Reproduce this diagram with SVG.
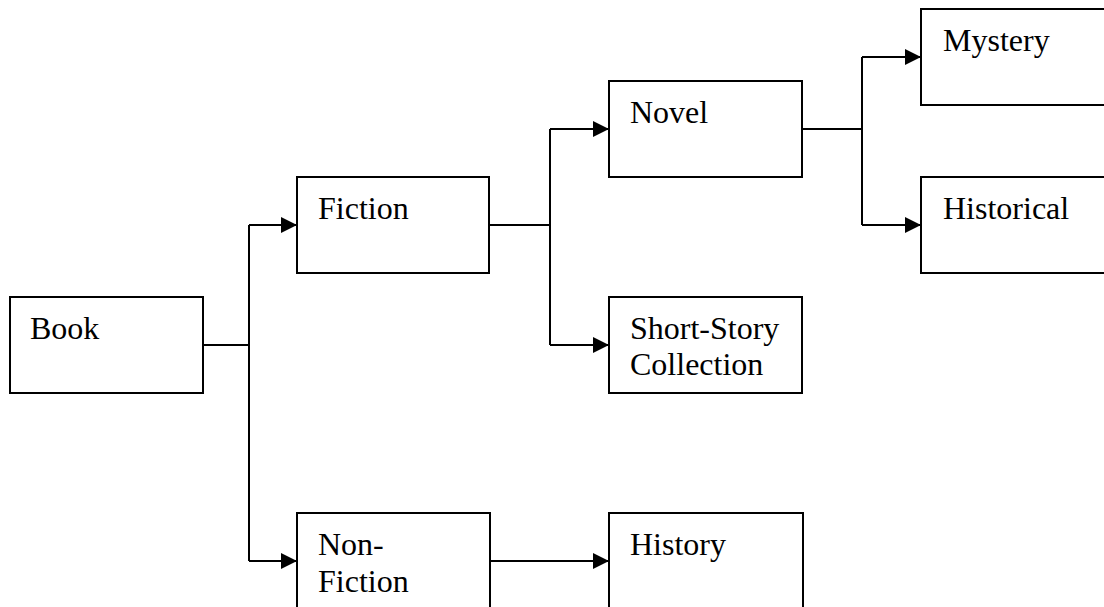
<svg xmlns="http://www.w3.org/2000/svg" width="1104" height="607" viewBox="0 0 1104 607">
<style>
.box{fill:#fff;stroke:#000;stroke-width:2}
.t{font-family:"Liberation Serif","Times New Roman",serif;font-size:32px;fill:#000}
.c{fill:none;stroke:#000;stroke-width:2}
</style>
<defs>
<marker id="arr" markerUnits="userSpaceOnUse" markerWidth="18" markerHeight="18" refX="16" refY="8" orient="auto">
<path d="M0,0 L16,8 L0,16 Z" fill="#000"/>
</marker>
</defs>
<rect width="1104" height="607" fill="#fff"/>
<g id="connectors">
<path class="c" d="M203,345 H249"/>
<path class="c" d="M249,225 V561"/>
<path class="c" d="M249,225 H297" marker-end="url(#arr)"/>
<path class="c" d="M249,561 H297" marker-end="url(#arr)"/>
<path class="c" d="M489,225 H550"/>
<path class="c" d="M550,129 V345"/>
<path class="c" d="M550,129 H609" marker-end="url(#arr)"/>
<path class="c" d="M550,345 H609" marker-end="url(#arr)"/>
<path class="c" d="M802,129 H862"/>
<path class="c" d="M862,57 V225"/>
<path class="c" d="M862,57 H921" marker-end="url(#arr)"/>
<path class="c" d="M862,225 H921" marker-end="url(#arr)"/>
<path class="c" d="M490,561 H609" marker-end="url(#arr)"/>
</g>
<g id="book"><rect class="box" x="10" y="297" width="193" height="96"/><text class="t" x="30" y="339">Book</text></g>
<g id="fiction"><rect class="box" x="297" y="177" width="192" height="96"/><text class="t" x="318" y="219">Fiction</text></g>
<g id="nonfiction"><rect class="box" x="297" y="513" width="193" height="96"/><text class="t" x="318" y="555">Non-</text><text class="t" x="318" y="592">Fiction</text></g>
<g id="novel"><rect class="box" x="609" y="81" width="193" height="96"/><text class="t" x="630" y="123">Novel</text></g>
<g id="shortstory"><rect class="box" x="609" y="297" width="193" height="96"/><text class="t" x="630" y="339">Short-Story</text><text class="t" x="630" y="375">Collection</text></g>
<g id="history"><rect class="box" x="609" y="513" width="194" height="96"/><text class="t" x="630" y="555">History</text></g>
<g id="mystery"><rect class="box" x="921" y="9" width="193" height="96"/><text class="t" x="943" y="51">Mystery</text></g>
<g id="historical"><rect class="box" x="921" y="177" width="193" height="96"/><text class="t" x="943" y="219">Historical</text></g>
</svg>
